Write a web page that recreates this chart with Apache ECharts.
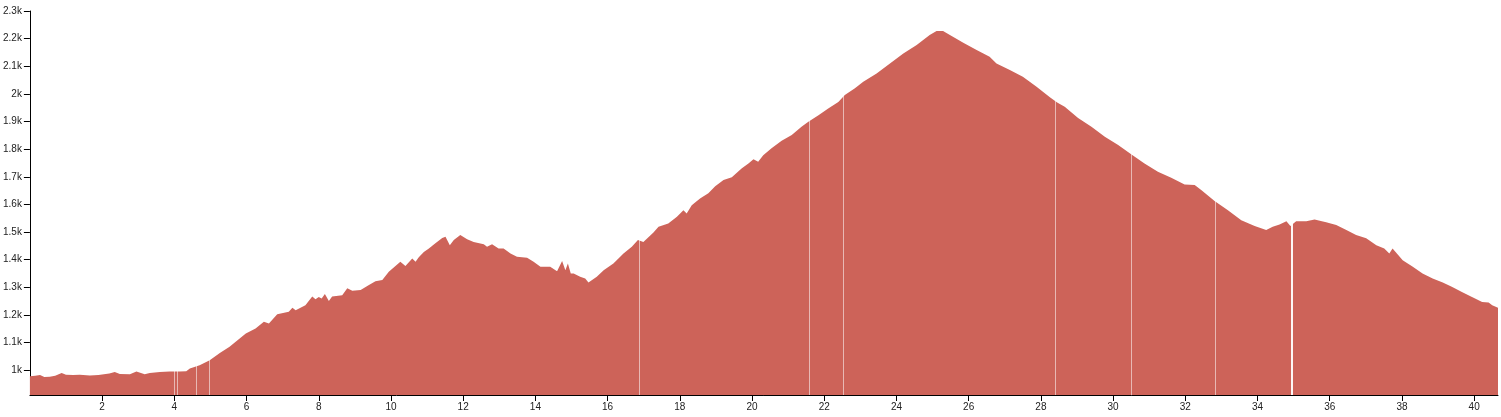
<!DOCTYPE html>
<html>
<head>
<meta charset="utf-8">
<script src="https://cdn.jsdelivr.net/npm/echarts@6.0.0/dist/echarts.min.js"></script>
<style>
html,body{margin:0;padding:0;background:#fff;}
#chart{width:1501px;height:417px;}
</style>
</head>
<body>
<div id="chart"></div>
<script>
// distance along route (km)
const distanceKm = [
  0.0,0.15,0.28,0.4,0.55,0.7,0.88,1.0,1.2,1.38,1.66,1.9,2.2,2.35,2.49,2.77,2.95,3.18,3.32,3.6,3.87,4.15,4.33,4.43,4.7,4.98,
  5.26,5.53,5.75,5.98,6.25,6.48,6.62,6.85,7.17,7.27,7.36,7.63,7.82,7.91,8.0,8.08,8.17,8.28,8.37,8.65,8.79,8.93,9.16,9.39,
  9.57,9.76,9.94,10.26,10.4,10.59,10.68,10.77,10.91,11.05,11.23,11.42,11.51,11.63,11.74,11.92,12.11,12.29,12.57,12.66,12.8,
  12.98,13.12,13.31,13.49,13.77,13.95,14.14,14.41,14.6,14.74,14.83,14.9,14.98,15.06,15.24,15.38,15.47,15.7,15.89,16.16,
  16.44,16.67,16.84,16.99,17.27,17.41,17.68,17.92,18.1,18.19,18.33,18.56,18.79,18.98,19.21,19.44,19.71,19.9,20.04,20.17,
  20.31,20.54,20.82,21.1,21.37,21.56,21.84,22.11,22.39,22.57,22.85,23.08,23.45,23.82,24.19,24.56,24.92,25.11,25.29,25.48,
  25.85,26.22,26.58,26.77,27.14,27.5,27.88,28.24,28.45,28.66,29.03,29.4,29.77,30.14,30.51,30.87,31.24,31.61,31.98,32.26,
  32.44,32.81,33.18,33.55,33.92,34.24,34.42,34.61,34.8,34.91,35.07,35.35,35.58,35.9,36.18,36.46,36.73,37.01,37.29,37.51,
  37.65,37.74,38.02,38.3,38.57,38.85,39.13,39.38,39.66,39.94,40.22,40.4,40.5,40.66
];
// elevation (m)
const elevationM = [
  978,980,982,975,976,980,990,983,982,983,981,982,988,993,986,985,995,985,990,993,995,995,996,1006,1018,1036,
  1062,1085,1108,1133,1151,1175,1169,1202,1211,1226,1217,1235,1267,1257,1265,1259,1276,1250,1267,1271,1296,1287,1290,1308,
  1322,1326,1356,1392,1377,1404,1392,1409,1428,1440,1459,1478,1483,1452,1471,1489,1474,1464,1456,1447,1456,
  1440,1440,1422,1410,1407,1392,1374,1374,1358,1395,1362,1386,1350,1350,1338,1332,1317,1338,1362,1386,
  1422,1447,1471,1464,1498,1519,1531,1555,1579,1567,1597,1621,1640,1666,1688,1698,1730,1748,1763,1754,
  1778,1803,1830,1851,1881,1899,1923,1947,1971,1996,2020,2044,2074,2110,2146,2177,2213,2228,2228,2213,
  2185,2159,2134,2110,2086,2062,2026,1989,1969,1953,1913,1881,1845,1815,1781,1748,1718,1696,1672,1670,
  1652,1612,1579,1543,1522,1507,1519,1527,1539,1522,1539,1539,1545,1535,1525,1507,1489,1477,1452,1440,
  1422,1440,1398,1374,1350,1332,1317,1302,1283,1265,1247,1245,1235,1226
];
// small gaps in the track data (km)
const gapKm = [4.01, 4.08, 4.62, 4.98, 16.87, 21.58, 22.52, 28.41, 30.51, 32.83];
const wideGapKm = [34.94];
// tick values
const xTicks = [2,4,6,8,10,12,14,16,18,20,22,24,26,28,30,32,34,36,38,40];
const yTicks = [1000,1100,1200,1300,1400,1500,1600,1700,1800,1900,2000,2100,2200,2300];

const seriesData = distanceKm.map((d, i) => [d, elevationM[i]]);
const fmtK = v => (v / 1000) + 'k';

const chart = echarts.init(document.getElementById('chart'), null, {renderer: 'canvas'});
chart.setOption({
  animation: false,
  backgroundColor: '#ffffff',
  grid: {left: 29, right: 3, top: 11, bottom: 22, containLabel: false},
  xAxis: {
    type: 'value',
    min: 0,
    max: 40.66,
    splitLine: {show: false},
    axisLine: {show: true, onZero: false, lineStyle: {color: '#000', width: 1}},
    axisTick: {show: true, length: 6, lineStyle: {color: '#000'}, customValues: xTicks},
    axisLabel: {show: true, margin: 7, color: '#222', fontSize: 10, fontFamily: 'Liberation Sans, Arial, sans-serif', customValues: xTicks}
  },
  yAxis: {
    type: 'value',
    min: 910,
    max: 2300,
    splitLine: {show: false},
    axisLine: {show: true, lineStyle: {color: '#000', width: 1}},
    axisTick: {show: true, length: 6, lineStyle: {color: '#000'}, customValues: yTicks},
    axisLabel: {show: true, margin: 8, color: '#222', fontSize: 10, fontFamily: 'Liberation Sans, Arial, sans-serif', customValues: yTicks, formatter: fmtK}
  },
  series: [{
    type: 'line',
    data: seriesData,
    symbol: 'none',
    smooth: false,
    lineStyle: {width: 0, color: '#cd6359'},
    itemStyle: {color: '#cd6359'},
    areaStyle: {color: '#cd6359', opacity: 1},
    silent: true,
    markLine: {
      silent: true,
      symbol: ['none', 'none'],
      label: {show: false},
      data: gapKm.map(k => ({xAxis: k, lineStyle: {color: '#ffffff', width: 1, opacity: 0.55, type: 'solid'}}))
        .concat(wideGapKm.map(k => ({xAxis: k, lineStyle: {color: '#ffffff', width: 2, opacity: 0.95, type: 'solid'}})))
    }
  }]
});
</script>
</body>
</html>
